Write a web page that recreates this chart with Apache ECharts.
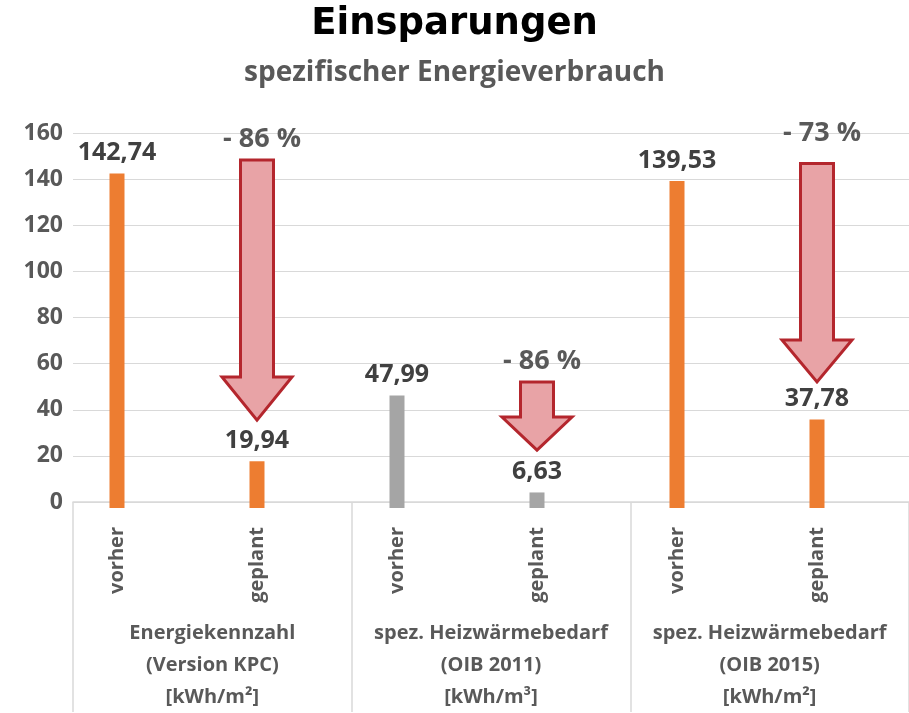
<!DOCTYPE html>
<html>
<head>
<meta charset="utf-8">
<script src="https://cdn.jsdelivr.net/npm/echarts@6/dist/echarts.min.js"></script>
<style>
html,body{margin:0;padding:0;background:#fff;}
#chart{width:909px;height:713px;}
</style>
</head>
<body>
<div id="chart"></div>
<script>
// ---- data ----
const barCategories = ['vorher', 'geplant', 'vorher', 'geplant', 'vorher', 'geplant'];
const groupCategories = [
  'Energiekennzahl\n(Version KPC)\n[kWh/m²]',
  'spez. Heizwärmebedarf\n(OIB 2011)\n[kWh/m³]',
  'spez. Heizwärmebedarf\n(OIB 2015)\n[kWh/m²]'
];
const barValues = [142.74, 19.94, 47.99, 6.63, 139.53, 37.78];
const barGroupKind = ['orange', 'orange', 'grey', 'grey', 'orange', 'orange'];
const yTicks = [0, 20, 40, 60, 80, 100, 120, 140, 160];
// arrows: category index, top value, value where head starts, tip value, label
const arrowCategory = [1, 3, 5];
const arrowTop = [148.5, 53.8, 147];
const arrowHeadStart = [55.9, 38.8, 71.7];
const arrowTip = [37.5, 24.7, 53.8];
const arrowLabels = ['- 86 %', '- 86 %', '- 73 %'];

// ---- styles ----
const COLORS = { orange: '#ED7D31', grey: '#A5A5A5' };
const FONT = '"Open Sans", "Noto Sans", sans-serif';
const GRID_TOP = 133, GRID_BOTTOM = 205;

const chart = echarts.init(document.getElementById('chart'), null, { renderer: 'canvas' });

const barData = barValues.map((v, i) => ({
  value: v,
  itemStyle: { color: COLORS[barGroupKind[i]] }
}));

const arrowData = arrowCategory.map((c, i) => [c, arrowTop[i], arrowHeadStart[i], arrowTip[i]]);

function fmt(v) { return v.toFixed(2).replace('.', ','); }

const option = {
  backgroundColor: '#ffffff',
  animation: false,
  title: [
    {
      text: 'Einsparungen',
      left: 'center',
      top: 1,
      textStyle: { fontFamily: '"DejaVu Sans", sans-serif', fontWeight: 'bold', fontSize: 37, color: '#000000' }
    },
    {
      text: 'spezifischer Energieverbrauch',
      left: 'center',
      top: 54,
      textStyle: { fontFamily: FONT, fontWeight: 'bold', fontSize: 28, color: '#595959' }
    }
  ],
  grid: [
    { left: 73, right: 0, top: GRID_TOP, bottom: GRID_BOTTOM, containLabel: false },
    { left: 47, width: 840, top: GRID_TOP, bottom: GRID_BOTTOM, containLabel: false }
  ],
  xAxis: [
    {
      type: 'category',
      gridIndex: 0,
      data: groupCategories,
      boundaryGap: true,
      axisLine: { show: true, lineStyle: { color: '#D9D9D9', width: 1.5 } },
      axisTick: { show: true, interval: 0, length: 210, lineStyle: { color: '#D9D9D9', width: 1.5 } },
      axisLabel: {
        interval: 0,
        margin: 115,
        fontFamily: FONT,
        fontWeight: 'bold',
        fontSize: 20,
        lineHeight: 32,
        color: '#595959',
        align: 'center'
      },
      splitLine: { show: false }
    },
    {
      type: 'category',
      gridIndex: 1,
      data: barCategories,
      boundaryGap: true,
      axisLine: { show: false },
      axisTick: { show: false },
      axisLabel: {
        interval: 0,
        rotate: 90,
        margin: 19,
        fontFamily: FONT,
        fontWeight: 'bold',
        fontSize: 20,
        color: '#595959'
      },
      splitLine: { show: false }
    }
  ],
  yAxis: [
    {
      type: 'value',
      gridIndex: 0,
      min: yTicks[0],
      max: yTicks[yTicks.length - 1],
      interval: yTicks[1] - yTicks[0],
      axisLine: { show: false },
      axisTick: { show: false },
      axisLabel: {
        margin: 10,
        fontFamily: FONT,
        fontWeight: 'bold',
        fontSize: 23,
        color: '#595959'
      },
      splitLine: { show: true, lineStyle: { color: '#D9D9D9', width: 1.2 } }
    },
    {
      type: 'value',
      gridIndex: 1,
      min: yTicks[0],
      max: yTicks[yTicks.length - 1],
      interval: yTicks[1] - yTicks[0],
      show: false,
      splitLine: { show: false }
    }
  ],
  series: [
    {
      type: 'bar',
      xAxisIndex: 1,
      yAxisIndex: 1,
      data: barData,
      barWidth: 15,
      label: {
        show: true,
        position: 'top',
        distance: 8,
        formatter: p => fmt(p.value),
        fontFamily: FONT,
        fontWeight: 'bold',
        fontSize: 25,
        color: '#404040'
      },
      z: 3
    },
    {
      type: 'custom',
      xAxisIndex: 1,
      yAxisIndex: 1,
      data: arrowData,
      z: 4,
      renderItem: function (params, api) {
        const c = api.value(0);
        const top = api.coord([c, api.value(1)]);
        const head = api.coord([c, api.value(2)]);
        const tip = api.coord([c, api.value(3)]);
        const label = arrowLabels[params.dataIndex];
        const x = top[0];
        const sw = 16.5, hw = 35;
        const pts = [
          [x - sw, top[1]], [x + sw, top[1]], [x + sw, head[1]], [x + hw, head[1]],
          [x, tip[1]], [x - hw, head[1]], [x - sw, head[1]]
        ];
        const labelGap = params.dataIndex === 2 ? 30 : 21;
        return {
          type: 'group',
          children: [
            {
              type: 'polygon',
              shape: { points: pts },
              style: { fill: '#E8A3A6', stroke: '#B4262D', lineWidth: 3, lineJoin: 'miter' }
            },
            {
              type: 'text',
              x: x + 5,
              y: top[1] - labelGap,
              style: {
                text: label,
                fontFamily: FONT,
                fontWeight: 'bold',
                fontSize: 27,
                fill: '#595959',
                align: 'center',
                verticalAlign: 'middle'
              }
            }
          ]
        };
      }
    }
  ]
};

chart.setOption(option);
</script>
</body>
</html>
